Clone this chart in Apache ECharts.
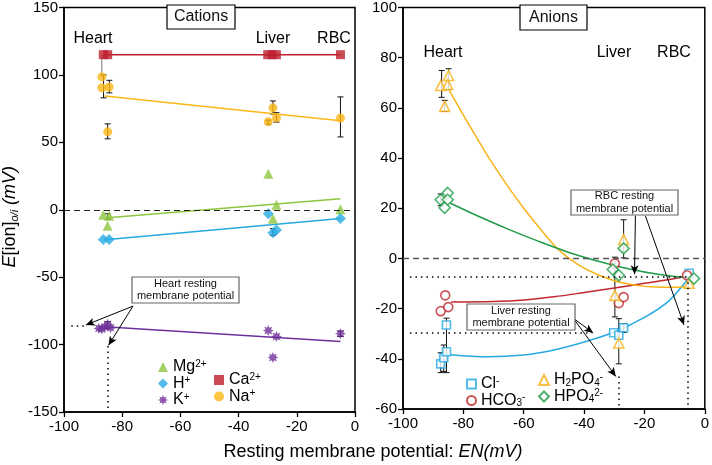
<!DOCTYPE html>
<html><head><meta charset="utf-8">
<script src="https://cdn.jsdelivr.net/npm/echarts@6/dist/echarts.min.js"></script>
<style>html,body{margin:0;padding:0;background:#fff}#c{width:712px;height:465px}</style>
</head><body><div id="c"></div>
<script>
// ---------- tick labels ----------
const xTicks = [-100, -80, -60, -40, -20, 0];
const leftYTicks = [-150, -100, -50, 0, 50, 100, 150];
const rightYTicks = [-60, -40, -20, 0, 20, 40, 60, 80, 100];

// ---------- Cations (left) ----------
const caPts = [[-86.5,115],[-85,115],[-30,115],[-28.5,115],[-27,115],[-5,115]];
const caFit = [[-86,115],[-5,115]];
const naPts = [[-87,98.5],[-87,90.4],[-84.5,91],[-85,57.8],[-28.2,75.6],[-29.8,65.2],[-27,68.1],[-5,68]];
const naFit = [[-86,84.4],[-5,66]];
const mgPts = [[-86.5,-3.7],[-84.5,-4.5],[-85,-11.9],[-29.8,26.7],[-27,3.7],[-28.2,-6.7],[-5,0.3]];
const mgFit = [[-85,-5.9],[-5,8.1]];
const hPts = [[-86.5,-22],[-84.5,-22],[-29.8,-3],[-28.2,-17],[-27,-15],[-5,-6.5]];
const hFit = [[-85,-22],[-5,-6.5]];
const kPts = [[-88,-88],[-87,-88.5],[-86,-87],[-85,-85],[-84,-87.5],[-29.8,-89.6],[-27,-94],[-28.2,-109.6],[-5,-91.9]];
const kFit = [[-86,-86.7],[-5,-97.8]];
const leftErr = [[-86.4,83,100],[-84.4,86.7,96],[-85,52.6,63.7],[-28.2,71,80.7],[-27,65,72],[-29.8,63.5,66.5],[-5,54,83.7],[-85,-7,-3],[-28.2,-19,-14],[-85,-88,-83],[-5,-94,-90]];
const leftGrayErr = [[-87,98.5,115]];

// ---------- Anions (right) ----------
const clPts = [[-87.5,-42],[-86.5,-39.6],[-85.6,-37.2],[-85.6,-26.5],[-30.2,-29.6],[-28.5,-30.6],[-26.9,-27.6],[-5.2,-5.9]];
const clFit = [[-84.3,-38.4],[-72,-39.2],[-60,-38.5],[-50,-36.5],[-40,-33.3],[-30,-29.3],[-20,-23.5],[-12,-17],[-5.2,-7.5]];
const hco3Pts = [[-87.5,-21],[-86,-14.7],[-85,-19.4],[-29.8,-2],[-28.5,-17.8],[-26.9,-15.4],[-5.9,-6.7]];
const hco3Fit = [[-84,-17.4],[-70,-17.2],[-60,-16.6],[-50,-15.3],[-40,-13.6],[-30,-11.8],[-20,-9.9],[-10,-8],[-5.9,-6.9]];
const h2po4Pts = [[-87.5,68.9],[-84.9,72.9],[-85.2,69.3],[-86.2,60.6],[-26.9,7.5],[-29.8,-14.7],[-28.5,-33.7],[-5.2,-9.9]];
const h2po4Fit = [[-85,67.7],[-78,53],[-72,41],[-66,30],[-60,20],[-54,11],[-48.5,3.5],[-42,-2.5],[-35,-6.7],[-27,-9.8],[-18,-11.3],[-10,-11.5],[-5,-11.2]];
const hpo4Pts = [[-87.5,23.4],[-85.2,26.1],[-85.2,23.4],[-86.2,20.2],[-30.5,-4.4],[-28.5,-6.7],[-26.9,4],[-3.6,-8]];
const hpo4Fit = [[-84.6,22.2],[-75,16.8],[-65,11.6],[-55,6.8],[-45,2.4],[-35,-1.2],[-25,-4.2],[-15,-6.4],[-5,-7.8]];
const rightErr = [[-87.2,64.2,74.9],[-84.9,67.3,75.6],[-86.2,58.6,63],[-87.5,21,25.7],[-87.5,-45.5,-37.6],[-85.6,-45.5,-23.8],[-86.5,-45,-34.5],[-29.8,-23.3,0.5],[-28.5,-42,-24],[-26.9,0.2,15.4],[-26.9,-29.5,-26],[-5.5,-11.9,-7]];

const FONT = 'Liberation Sans';
const C = {ca:'#be1e2d', na:'#fbb715', mg:'#8cc63e', h:'#27aae1', k:'#6f2f9a',
           cl:'#27aae1', hco3:'#c1272d', h2po4:'#f7b318', hpo4:'#1f9c4a'};

const starPath = (() => {
  let s = 'path://'; const n = 8;
  for (let i = 0; i < 2*n; i++) {
    const r = i % 2 ? 0.55 : 1; const a = Math.PI*i/n - Math.PI/2;
    s += (i ? 'L' : 'M') + (10+10*r*Math.cos(a)).toFixed(2) + ' ' + (10+10*r*Math.sin(a)).toFixed(2) + ' ';
  }
  return s + 'Z';
})();

function errBars(data, gi, color, cap) {
  return { type:'custom', xAxisIndex:gi, yAxisIndex:gi, silent:true, z:1, data: data,
    encode:{x:0, y:[1,2]},
    renderItem(params, api) {
      const x = api.value(0), lo = api.value(1), hi = api.value(2);
      const a = api.coord([x, lo]), b = api.coord([x, hi]);
      const st = {stroke:color, lineWidth:1};
      const ch = [{type:'line', shape:{x1:a[0],y1:a[1],x2:b[0],y2:b[1]}, style:st}];
      if (cap) {
        ch.push({type:'line', shape:{x1:a[0]-cap,y1:a[1],x2:a[0]+cap,y2:a[1]}, style:st});
        ch.push({type:'line', shape:{x1:b[0]-cap,y1:b[1],x2:b[0]+cap,y2:b[1]}, style:st});
      }
      return {type:'group', children:ch};
    }};
}
function scatter(name, data, gi, symbol, color, size, empty) {
  return { type:'scatter', name, data, xAxisIndex:gi, yAxisIndex:gi, symbol, symbolSize:size, z:3,
    itemStyle: empty ? {color:'#fff', borderColor:color, borderWidth:1.6} : {color},
    emphasis:{disabled:true} };
}
function fit(data, gi, color, smooth, markLine) {
  const s = { type:'line', data, xAxisIndex:gi, yAxisIndex:gi, symbol:'none', smooth: smooth ? 0.35 : false,
    lineStyle:{color, width:1.5}, z:2, silent:true, emphasis:{disabled:true} };
  if (markLine) s.markLine = markLine;
  return s;
}
const dotted = {type:[1.5,4], color:'#000', width:1.5};
const arrowSt = {type:'solid', color:'#000', width:1};
function dotLine(a, b) { return [{coord:a, lineStyle:dotted, symbol:'none'}, {coord:b, lineStyle:dotted, symbol:'none'}]; }
function arrow(a, b) { return [{coord:a, lineStyle:arrowSt, symbol:'none'}, {coord:b, lineStyle:arrowSt, symbol:'arrow', symbolSize:[6,9]}]; }

const leftMarks = { silent:true, animation:false, label:{show:false}, symbol:['none','none'],
  data: [
    {yAxis:0, lineStyle:{type:[6,4], color:'#222', width:1.2}},
    dotLine([-97.5,-86],[-92.5,-86]),
    dotLine([-85,-101],[-85,-150]),
    arrow([-76.3,-71.5],[-92.5,-85.5]),
    arrow([-76.3,-71.5],[-84.7,-100.5])
  ]};
const rightMarks = { silent:true, animation:false, label:{show:false}, symbol:['none','none'],
  data: [
    {yAxis:0, lineStyle:{type:[6,4], color:'#555', width:1.4}},
    dotLine([-97.7,-7.1],[-5.6,-7.1]),
    dotLine([-5.6,-9.5],[-5.6,-60]),
    dotLine([-97.7,-29.7],[-37.5,-29.7]),
    dotLine([-28.5,-47],[-28.5,-60]),
    arrow([-23,17],[-23.3,-6.3]),
    arrow([-19.7,17],[-6.9,-26.5]),
    arrow([-43.6,-23.8],[-37,-29.7]),
    arrow([-43.6,-23.8],[-29.5,-47])
  ]};

const rich = {
  b:{fontSize:16, fontFamily:FONT, color:'#000', lineHeight:16},
  sup:{fontSize:10, fontFamily:FONT, color:'#000', lineHeight:9, verticalAlign:'top'},
  sub:{fontSize:10, fontFamily:FONT, color:'#000', lineHeight:9, verticalAlign:'bottom'}
};
const legendNames = {
  'Mg':'{b|Mg}{sup|2+}', 'H':'{b|H}{sup|+}', 'K':'{b|K}{sup|+}', 'Ca':'{b|Ca}{sup|2+}', 'Na':'{b|Na}{sup|+}',
  'Cl':'{b|Cl}{sup|-}', 'HCO3':'{b|HCO}{sub|3}{sup|-}', 'H2PO4':'{b|H}{sub|2}{b|PO}{sub|4}{sup|-}', 'HPO4':'{b|HPO}{sub|4}{sup|2-}'
};
function legend(names, left, top, sz) {
  return { data:names, left, top, orient:'vertical', itemWidth:sz, itemHeight:sz, itemGap:0.5,
    formatter: n => legendNames[n], textStyle:{rich}, selectedMode:false, padding:0 };
}

function xAxis(gi) {
  return { type:'value', gridIndex:gi, min:xTicks[0], max:xTicks[xTicks.length-1], interval:xTicks[1]-xTicks[0],
    axisLine:{onZero:false, lineStyle:{color:'#000', width:1.5}},
    axisTick:{inside:false, length:5, lineStyle:{color:'#000', width:1.3}},
    axisLabel:{fontSize:15, color:'#000', fontFamily:FONT, margin:7},
    splitLine:{show:false} };
}
function yAxis(gi, ticks, name) {
  const a = { type:'value', gridIndex:gi, min:ticks[0], max:ticks[ticks.length-1], interval:ticks[1]-ticks[0],
    axisLine:{onZero:false, lineStyle:{color:'#000', width:1.5}},
    axisTick:{inside:false, length:5, lineStyle:{color:'#000', width:1.3}},
    axisLabel:{fontSize:15, color:'#000', fontFamily:FONT, margin:6},
    splitLine:{show:false} };
  if (name) {
    Object.assign(a, { name, nameLocation:'middle', nameGap:44, nameRotate:90,
      nameTextStyle:{ padding:[0,0,0,-14], rich:{
        i:{fontSize:18, fontStyle:'italic', fontFamily:FONT, color:'#000', lineHeight:20},
        n:{fontSize:18, fontFamily:FONT, color:'#000', lineHeight:20},
        sub:{fontSize:11, fontStyle:'italic', fontFamily:FONT, color:'#000', lineHeight:10, verticalAlign:'bottom'}
      }}});
  }
  return a;
}
function txt(x, y, text, size, extra) {
  return Object.assign({ type:'text', x, y, z:100, silent:true,
    style:{ text, fontSize:size, fontFamily:FONT, fill:'#000', align:'center', verticalAlign:'middle' } }, extra || {});
}
function box(x, y, w, h, stroke, text, size, lh) {
  return [
    { type:'rect', z:99, silent:true, shape:{x, y, width:w, height:h}, style:{fill:'#fff', stroke, lineWidth:1.2} },
    { type:'text', z:100, silent:true, x:x+w/2, y:y+h/2,
      style:{ text, fontSize:size, lineHeight:lh, fontFamily:FONT, fill:'#111', align:'center', verticalAlign:'middle' } }
  ];
}

const option = {
  animation:false,
  backgroundColor:'#fff',
  grid:[
    {left:60, top:4, width:295, height:408, show:true, borderColor:'#000', borderWidth:1.5},
    {left:403, top:5, width:305, height:404, show:true, borderColor:'#000', borderWidth:1.5}
  ],
  xAxis:[xAxis(0), xAxis(1)],
  yAxis:[yAxis(0, leftYTicks, '{i|E}{n|[ion]}{sub|o/i}{n| }{i|(mV)}'), yAxis(1, rightYTicks)],
  legend:[
    legend(['Mg','H','K'], 158, 359, 10),
    legend(['Ca','Na'], 214, 372, 10),
    legend(['Cl','HCO3'], 466, 376, 9),
    legend(['H2PO4','HPO4'], 538, 372, 10)
  ],
  series:[
    errBars(leftGrayErr, 0, '#777', 0),
    errBars(leftErr, 0, '#111', 3),
    fit(caFit, 0, C.ca),
    fit(naFit, 0, C.na),
    fit(mgFit, 0, C.mg),
    fit(hFit, 0, C.h),
    fit(kFit, 0, C.k, false, leftMarks),
    scatter('Ca', caPts, 0, 'rect', C.ca, 9),
    scatter('Na', naPts, 0, 'circle', C.na, 9),
    scatter('Mg', mgPts, 0, 'triangle', C.mg, 10),
    scatter('H', hPts, 0, 'diamond', C.h, 11),
    scatter('K', kPts, 0, starPath, C.k, 11),

    errBars(rightErr, 1, '#111', 3),
    fit(clFit, 1, C.cl, true, rightMarks),
    fit(hco3Fit, 1, C.hco3, true),
    fit(h2po4Fit, 1, C.h2po4, true),
    fit(hpo4Fit, 1, C.hpo4, true),
    scatter('Cl', clPts, 1, 'rect', C.cl, 8, true),
    scatter('HCO3', hco3Pts, 1, 'circle', C.hco3, 9, true),
    scatter('H2PO4', h2po4Pts, 1, 'triangle', C.h2po4, 10, true),
    scatter('HPO4', hpo4Pts, 1, 'diamond', C.hpo4, 11, true)
  ],
  graphic:[
    ...box(167, 5, 68, 24, '#000', 'Cations', 16, 18),
    ...box(520, 5, 67, 25, '#000', 'Anions', 16, 18),
    ...box(132, 277, 107, 26, '#666', 'Heart resting\nmembrane potential', 11, 12.5),
    ...box(571, 190, 107, 25, '#666', 'RBC resting\nmembrane potential', 11, 12.5),
    ...box(467, 304, 108, 26, '#666', 'Liver resting\nmembrane potential', 11, 12.5),
    txt(93, 39, 'Heart', 16), txt(273, 39, 'Liver', 16), txt(334, 39, 'RBC', 16),
    txt(443, 53, 'Heart', 16), txt(614, 53, 'Liver', 16), txt(674, 53, 'RBC', 16),
    { type:'text', x:373, y:452, z:100, silent:true,
      style:{ text:'{n|Resting membrane potential: }{i|EN(mV)}', align:'center', verticalAlign:'middle',
        rich:{ n:{fontSize:18, fontFamily:FONT, fill:'#000'}, i:{fontSize:18, fontFamily:FONT, fontStyle:'italic', fill:'#000'} } } }
  ]
};
const chart = echarts.init(document.getElementById('c'), null, {renderer:'canvas'});
chart.setOption(option);
</script>
</body></html>
